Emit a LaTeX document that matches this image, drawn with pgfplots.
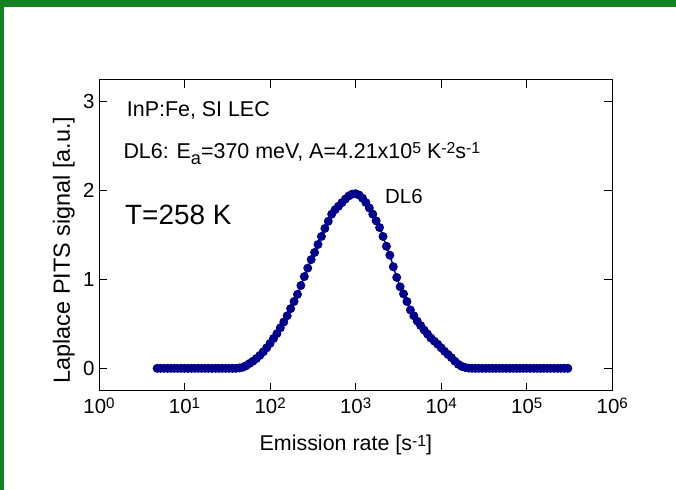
\documentclass[border=0pt]{standalone}
\usepackage{fontspec}
\setmainfont{Liberation Sans}
\usepackage{graphicx}
\usepackage{pgfplots}
\usepackage{pgfplotstable}
\pgfplotsset{compat=1.18}
\definecolor{frameGreen}{RGB}{20,130,35}
\definecolor{dotBlue}{RGB}{0,0,140}
\newcommand{\sups}[1]{\raisebox{0.22em}{\scalebox{0.74}{#1}}}
\newcommand{\subs}[1]{\raisebox{-0.28em}{\scalebox{0.85}{#1}}}

% lx = log10(emission rate [1/s]), y = Laplace PITS signal [a.u.]
\pgfplotstableread{
lx y
0.68 0
0.72 0
0.76 0
0.80 0
0.84 0
0.88 0
0.92 0
0.96 0
1.00 0
1.04 0
1.08 0
1.12 0
1.16 0
1.20 0
1.24 0
1.28 0
1.32 0
1.36 0
1.40 0
1.44 0
1.48 0
1.52 0
1.56 0
1.60 0.000
1.64 0.004
1.68 0.012
1.72 0.030
1.76 0.055
1.80 0.080
1.84 0.110
1.88 0.145
1.92 0.185
1.96 0.230
2.00 0.280
2.04 0.335
2.08 0.390
2.12 0.455
2.16 0.520
2.20 0.590
2.24 0.670
2.28 0.750
2.32 0.830
2.36 0.930
2.40 1.030
2.44 1.125
2.48 1.220
2.52 1.300
2.56 1.390
2.60 1.480
2.64 1.570
2.68 1.650
2.72 1.730
2.76 1.780
2.80 1.820
2.84 1.860
2.88 1.900
2.92 1.935
2.96 1.955
3.00 1.960
3.04 1.945
3.08 1.910
3.12 1.860
3.16 1.800
3.20 1.730
3.24 1.655
3.28 1.580
3.32 1.480
3.36 1.370
3.40 1.270
3.44 1.140
3.48 1.020
3.52 0.915
3.56 0.835
3.60 0.750
3.64 0.655
3.68 0.590
3.72 0.530
3.76 0.480
3.80 0.430
3.84 0.385
3.88 0.340
3.92 0.305
3.96 0.270
4.00 0.230
4.04 0.190
4.08 0.155
4.12 0.120
4.16 0.080
4.20 0.045
4.24 0.022
4.28 0.010
4.32 0.003
4.36 0
4.40 0
4.44 0
4.48 0
4.52 0
4.56 0
4.60 0
4.64 0
4.68 0
4.72 0
4.76 0
4.80 0
4.84 0
4.88 0
4.92 0
4.96 0
5.00 0
5.04 0
5.08 0
5.12 0
5.16 0
5.20 0
5.24 0
5.28 0
5.32 0
5.36 0
5.40 0
5.44 0
5.48 0
}\dataDLsix

\begin{document}
\begin{tikzpicture}
\useasboundingbox (0,0) rectangle (676bp,490bp);
\fill[white] (0,0) rectangle (676bp,490bp);
\fill[frameGreen] (0,483bp) rectangle (676bp,490bp);
\fill[frameGreen] (0,0) rectangle (4bp,490bp);
\begin{axis}[
  at={(99bp,99.3bp)}, anchor=south west,
  scale only axis, width=513.3bp, height=310.7bp,
  xmode=log, log basis x=10,
  xmin=1, xmax=1e6, ymin=-0.251, ymax=3.236,
  xtick={1,10,100,1000,10000,100000,1000000},
  xticklabels={10\sups{0},10\sups{1},10\sups{2},10\sups{3},10\sups{4},10\sups{5},10\sups{6}},
  minor xtick={},
  ytick={0,1,2,3}, yticklabels={0,1,2,3},
  tick align=inside, tick pos=both,
  major tick length=8bp,
  axis line style={line width=1bp, black},
  every tick/.style={line width=1bp, black},
  ticklabel style={font=\fontsize{20.5}{24}\selectfont},
  xticklabel style={yshift=-4bp},
  yticklabel style={xshift=-1bp},
  xlabel={Emission rate [s\sups{-1}]},
  ylabel={Laplace PITS signal [a.u.]},
  xlabel style={font=\fontsize{21.5}{25}\selectfont, at={(axis description cs:0.481,-0.194)}, anchor=base},
  ylabel style={font=\fontsize{23.5}{27}\selectfont, at={(axis description cs:-0.0565,0.453)}, anchor=base},
  clip=false,
]
\addplot[color=dotBlue, line width=1.5bp, mark=*, mark size=3.7bp,
  mark options={fill=dotBlue, draw=dotBlue}]
  table[x expr={10^(\thisrow{lx})}, y=y] {\dataDLsix};
\end{axis}
\node[anchor=base west, inner sep=0, font=\fontsize{21.5}{25}\selectfont] at (126.7bp,373.3bp) {InP:Fe, SI LEC};
\node[anchor=base west, inner sep=0, font=\fontsize{21.5}{25}\selectfont] at (123.3bp,331.7bp) {DL6: E\subs{a}=370 meV, A=4.21x10\sups{5} K\sups{-2}s\sups{-1}};
\node[anchor=base west, inner sep=0, font=\fontsize{28}{32}\selectfont] at (125bp,265bp) {T=258 K};
\node[anchor=base west, inner sep=0, font=\fontsize{20.5}{24}\selectfont] at (385bp,286.7bp) {DL6};
\end{tikzpicture}
\end{document}
